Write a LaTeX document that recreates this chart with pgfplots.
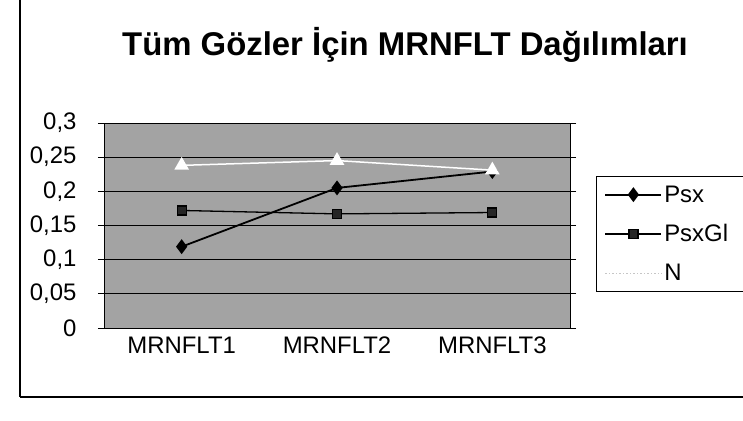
\documentclass[border=0pt]{standalone}
\usepackage{pgfplots}
\pgfplotsset{compat=1.18}
\usepackage{fontspec}
\setmainfont{Liberation Sans}
\definecolor{plotbg}{rgb}{0.64,0.64,0.64}
\pgfplotsset{longline/.style={legend image code/.code={\draw[mark repeat=2,mark phase=2,##1] plot coordinates {(0bp,0bp) (28bp,0bp) (56bp,0bp)};}}}
\begin{document}
\begin{tikzpicture}[x=1bp,y=1bp]
\useasboundingbox (0bp,0bp) rectangle (743bp,421bp);
\draw[line width=1.2bp] (20bp,24bp) -- (20bp,421bp);
\draw[line width=1.2bp] (20bp,24bp) -- (743bp,24bp);
\node[font=\fontsize{33}{36}\selectfont\bfseries] at (405bp,376bp) {Tüm Gözler İçin MRNFLT Dağılımları};
\begin{axis}[
  at={(104bp,93bp)}, anchor=south west,
  width=466bp, height=205bp, scale only axis,
  xmin=-0.5, xmax=2.5, ymin=0, ymax=0.3,
  axis background/.style={fill=plotbg},
  axis line style={black, line width=1bp},
  xtick={0,1,2}, xticklabels={MRNFLT1,MRNFLT2,MRNFLT3},
  x tick style={draw=none},
  extra x ticks={-0.5,0.5,1.5,2.5}, extra x tick labels={},
  extra x tick style={grid=none, tick style={draw=black, line width=0.8bp}, tick align=outside, major tick length=6bp},
  ytick={0,0.05,0.1,0.15,0.2,0.25,0.3},
  yticklabels={0,{0,05},{0,1},{0,15},{0,2},{0,25},{0,3}},
  y tick style={black, line width=0.8bp},
  tick align=outside, major tick length=6bp,
  ymajorgrids, grid style={black, line width=0.8bp},
  yticklabel style={font=\fontsize{24}{26}\selectfont, xshift=-18bp},
  xticklabel style={font=\fontsize{24}{26}\selectfont, text height=17bp, text depth=5bp, yshift=1bp},
  legend style={at={(1.056,0.4585)}, anchor=west, draw=black, line width=0.8bp,
    font=\fontsize{24}{26}\selectfont, row sep=17bp, inner xsep=8bp, inner ysep=7bp,
    text width=90bp},
  legend cell align=left,
  clip=false,
]
\addplot[black, line width=1.8bp, mark=diamond*, mark size=6bp, mark options={fill=black, solid}, longline]
  coordinates {(0,0.119) (1,0.205) (2,0.229)};
\addlegendentry{Psx}
\addplot[black, line width=1.3bp, mark=square*, mark size=4.5bp, mark options={fill=black!85, solid}, longline]
  coordinates {(0,0.172) (1,0.167) (2,0.169)};
\addlegendentry{PsxGl}
\addplot[white, line width=1.5bp, mark=triangle*, mark size=7bp, mark options={fill=white, solid},
  legend image code/.code={\draw[gray!45, dotted, line width=1.5bp] (0bp,0bp) -- (56bp,0bp);}]
  coordinates {(0,0.238) (1,0.245) (2,0.231)};
\addlegendentry{N}
\end{axis}
\end{tikzpicture}
\end{document}
